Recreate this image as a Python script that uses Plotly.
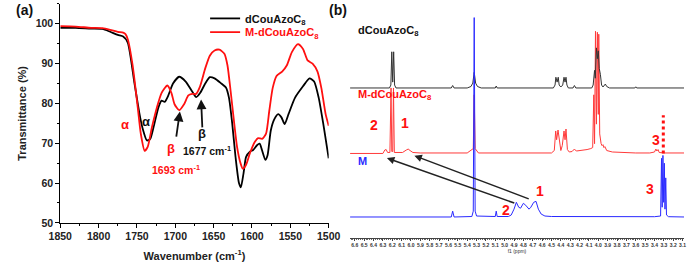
import plotly.graph_objects as go

# ---------------- Panel (a): FTIR data ----------------
ir_black_wn = [1850, 1830, 1810, 1795, 1785, 1775, 1768, 1762, 1753.6, 1747, 1743, 1737, 1732.7, 1728.4,
               1722, 1718, 1713.8, 1709.6, 1703, 1695, 1686.5, 1678, 1672.7, 1667.7, 1661, 1655, 1648.8,
               1640, 1634, 1630, 1625.7, 1621.5, 1617, 1614.5, 1611, 1607.7, 1602.7, 1598.5, 1593.5, 1590,
               1587, 1582.6, 1579.7, 1575.5, 1571, 1565.8, 1561.6, 1557.4, 1552.4, 1544, 1533.5, 1525,
               1519, 1513, 1507, 1503, 1500]
ir_black_T = [99.0, 99.0, 98.8, 98.7, 98.0, 97.2, 96.8, 95.3, 85.5, 77.7, 74.0, 70.7, 71.1, 74.0,
              79.0, 80.7, 80.4, 81.8, 85.0, 86.7, 85.5, 83.0, 81.6, 82.6, 85.0, 86.6, 86.3,
              85.0, 84.0, 81.4, 74.8, 66.6, 60.0, 58.9, 62.5, 66.6, 67.9, 68.3, 69.5, 69.9,
              68.3, 65.8, 67.0, 73.2, 76.0, 77.3, 76.5, 74.8, 77.3, 81.4, 84.3, 86.3,
              85.5, 81.4, 74.8, 69.9, 66.2]

ir_red_wn = [1850, 1830, 1810, 1795, 1785, 1775, 1768, 1765, 1762, 1755.7, 1749, 1745, 1740, 1736, 1730.5,
             1724, 1718, 1710.4, 1705, 1701, 1695, 1688.6, 1683, 1678, 1673, 1667.7, 1661, 1655, 1648.8,
             1642.5, 1636, 1632, 1627.8, 1623.6, 1619.5, 1615, 1612, 1607.7, 1602.7, 1596.4, 1592,
             1586.8, 1581.7, 1577.5, 1573, 1568, 1560.7, 1554.5, 1548, 1540, 1533.5, 1527.5, 1521,
             1514.6, 1509.6, 1504, 1500]
ir_red_T = [99.4, 99.3, 99.0, 98.9, 98.5, 98.0, 97.8, 97.4, 96.1, 89.6, 79.0, 72.4, 68.1, 69.1, 74.0,
            79.0, 82.6, 84.5, 82.6, 79.8, 78.3, 79.8, 82.0, 82.4, 82.4, 84.3, 88.8, 92.0, 93.3,
            93.5, 92.5, 89.6, 83.0, 75.7, 69.1, 65.0, 63.6, 64.6, 67.5, 70.3, 71.3,
            71.1, 72.4, 78.1, 83.9, 86.9, 88.0, 89.6, 92.9, 94.9, 93.7, 90.8, 90.0,
            88.0, 83.9, 77.3, 74.4]

ir_xticks = [1850, 1800, 1750, 1700, 1650, 1600, 1550, 1500]
ir_yticks = [50, 60, 70, 80, 90, 100]

# ---------------- Panel (b): 1H NMR data (ppm, intensity above own baseline) ----------------
nmr_black_ppm = [6.65, 6.23, 6.215, 6.205, 6.195, 6.185, 6.175, 6.16,
                 5.57, 5.555, 5.54, 5.40, 5.36, 5.34, 5.325, 5.31, 5.29, 5.25,
                 5.10, 5.09, 5.08,
                 4.48, 4.462, 4.453, 4.44, 4.428, 4.418, 4.40, 4.38, 4.366, 4.355, 4.345, 4.335, 4.32,
                 4.27, 4.255, 4.24,
                 4.07, 4.055, 4.04, 4.032, 4.02, 4.01, 4.0, 3.99, 3.978, 3.965, 3.95, 3.925, 3.91, 3.88,
                 3.61, 3.60, 3.59, 3.08]
nmr_black_int = [0, 0, 3, 37, 6, 37, 3, 0,
                 0, 2.5, 0, 0, 1.5, 5, 16, 5, 1.5, 0,
                 0, 2, 0,
                 0, 3, 11, 6, 11, 3, 1, 3, 11, 6, 11, 3, 0,
                 0, 2.5, 0,
                 0, 3, 18, 10, 41, 30, 38, 20, 14, 3, 1, 4, 1.5, 0,
                 0, 1.2, 0, 0]

nmr_red_ppm = [6.65, 6.30, 6.28, 6.265, 6.25, 6.225, 6.213, 6.205, 6.195, 6.187, 6.178, 6.09, 6.05, 6.03,
               6.01, 5.98, 5.90, 5.40, 5.335, 5.325, 5.315, 5.28,
               4.50, 4.47, 4.455, 4.445, 4.43, 4.415, 4.40, 4.385, 4.366, 4.355, 4.345, 4.33, 4.31, 4.28,
               4.255, 4.235, 4.18, 4.12, 4.08, 4.06, 4.048, 4.04, 4.03, 4.02, 4.01, 4.0, 3.995, 3.985,
               3.97, 3.96, 3.95, 3.94, 3.93, 3.91, 3.85, 3.75, 3.60, 3.45, 3.40, 3.385, 3.375, 3.362,
               3.35, 3.30, 3.08]
nmr_red_int = [0, 0, 3.5, 4, 1, 1, 67, 2, 2, 67, 1, 1, 3.5, 4.5,
               3, 1, 0.5, 0.5, 5, 60, 5, 0.5,
               0.5, 3, 23, 14, 24, 10, 3, 8, 23, 14, 25, 4, 1.5, 2,
               4.5, 2.5, 3, 4, 5, 6, 60, 10, 125, 30, 124, 40, 122, 20,
               10, 8, 9, 6, 7, 3, 1.5, 1, 0.5, 0.5, 1.5, 4.5, 2.5, 4,
               1, 0.5, 0.5]

nmr_blue_ppm = [6.65, 5.57, 5.555, 5.54, 5.35, 5.335, 5.325, 5.315, 5.30, 5.10, 5.09, 5.08,
                4.96, 4.93, 4.90, 4.875, 4.85, 4.83, 4.80, 4.775, 4.74, 4.72, 4.69, 4.665, 4.64, 4.61,
                4.57, 4.50, 3.40, 3.335, 3.325, 3.318, 3.31, 3.302, 3.295, 3.288, 3.28, 3.272, 3.25, 3.08]
nmr_blue_int = [0, 0, 6, 0, 0.5, 6, 204, 6, 1, 0.5, 6, 0.5,
                0.5, 2, 8, 15, 10, 9, 14, 12, 8, 10, 15, 16, 8, 3,
                1, 0.5, 0.3, 1, 60, 10, 63, 15, 55, 8, 40, 2, 0.3, 0]

nmr_offsets = {"black": 176, "red": 109, "blue": 44}
dotted_ppm = [3.306, 3.306]
dotted_int = [0, 39]
nmr_xticks = [round(6.6 - 0.1 * i, 1) for i in range(36)]

BOLD = "Liberation Sans"
RED = "#ff1010"
fig = go.Figure()

# IR traces (each in its own single-entry legend so the two rows sit close together)
fig.add_trace(go.Scatter(x=ir_black_wn, y=ir_black_T, mode="lines",
                         line=dict(color="black", width=1.8, shape="spline", smoothing=0.6),
                         name="dCouAzoC<sub>8</sub>", xaxis="x", yaxis="y", legend="legend"))
fig.add_trace(go.Scatter(x=ir_red_wn, y=ir_red_T, mode="lines",
                         line=dict(color=RED, width=1.8, shape="spline", smoothing=0.6),
                         name=f"<span style='color:{RED}'>M-dCouAzoC<sub>8</sub></span>",
                         xaxis="x", yaxis="y", legend="legend2"))

# NMR traces
def off(vals, key):
    return [v + nmr_offsets[key] for v in vals]

fig.add_trace(go.Scatter(x=nmr_red_ppm, y=off(nmr_red_int, "red"), mode="lines", line=dict(color="#ff3a3a", width=1),
                         xaxis="x2", yaxis="y2", showlegend=False))
fig.add_trace(go.Scatter(x=nmr_black_ppm, y=off(nmr_black_int, "black"), mode="lines", line=dict(color="#333333", width=1),
                         xaxis="x2", yaxis="y2", showlegend=False))
fig.add_trace(go.Scatter(x=nmr_blue_ppm, y=off(nmr_blue_int, "blue"), mode="lines", line=dict(color="#2a2aff", width=1),
                         xaxis="x2", yaxis="y2", showlegend=False))
fig.add_trace(go.Scatter(x=dotted_ppm, y=off(dotted_int, "red"), mode="lines", line=dict(color=RED, width=3, dash="dot"),
                         xaxis="x2", yaxis="y2", showlegend=False))

W, H = 696, 266
axfont = dict(family=BOLD, size=10.5, color="#222222", weight="bold")
legfont = dict(family=BOLD, size=11, color="#111111", weight="bold")
fig.update_layout(
    width=W, height=H, margin=dict(l=0, r=0, t=0, b=0),
    paper_bgcolor="white", plot_bgcolor="white",
    showlegend=True,
    legend=dict(x=200 / W, y=1 - 4 / H, xanchor="left", yanchor="top", bgcolor="rgba(0,0,0,0)", font=legfont),
    legend2=dict(x=200 / W, y=1 - 18 / H, xanchor="left", yanchor="top", bgcolor="rgba(0,0,0,0)", font=legfont),
    xaxis=dict(domain=[50 / W, 328 / W], range=[1850, 1500], anchor="y",
               showline=True, linecolor="black", linewidth=1, ticks="outside", ticklen=4, tickcolor="black",
               tickvals=ir_xticks, tickfont=axfont, showgrid=False, zeroline=False,
               minor=dict(dtick=25, ticks="outside", ticklen=2, tickcolor="black", showgrid=False),
               title=dict(text="Wavenumber (cm<sup>-1</sup>)", font=dict(family=BOLD, size=11, color="#222222", weight="bold"), standoff=10)),
    yaxis=dict(domain=[1 - 228 / H, 1 - 4 / H], range=[50, 105], anchor="x",
               showline=True, linecolor="black", linewidth=1, ticks="outside", ticklen=4, tickcolor="black",
               tickvals=ir_yticks, tickfont=axfont, showgrid=False, zeroline=False,
               minor=dict(dtick=5, ticks="outside", ticklen=2, tickcolor="black", showgrid=False),
               title=dict(text="Transmittance (%)", font=dict(family=BOLD, size=11, color="#222222", weight="bold"), standoff=6)),
    xaxis2=dict(domain=[350 / W, 1.0], range=[6.652, 3.085], anchor="free", position=23 / H,
                showline=True, linecolor="#444444", linewidth=1, ticks="outside", ticklen=2, tickcolor="#444444",
                tickvals=nmr_xticks, ticktext=[f"{v:.1f}" for v in nmr_xticks],
                tickfont=dict(family=BOLD, size=5, color="#333333", weight="bold"), showgrid=False, zeroline=False,
                minor=dict(dtick=0.02, ticks="outside", ticklen=1, tickcolor="#666666", showgrid=False),
                title=dict(text="f1 (ppm)", font=dict(family=BOLD, size=5, color="#333333"), standoff=0)),
    yaxis2=dict(domain=[0, 1], range=[0, H], anchor="x2", visible=False, showgrid=False),
)

ann = []
def A(text, x, y, color, size, xref="x", yref="y", xanchor="center"):
    ann.append(dict(text=text, x=x, y=y, xref=xref, yref=yref, showarrow=False, xanchor=xanchor, yanchor="middle",
                    font=dict(family=BOLD, size=size, color=color, weight="bold")))

# panel labels
A("(a)", 2 / W, 1 - 10 / H, "#111111", 14, "paper", "paper", "left")
A("(b)", 326 / W, 1 - 10 / H, "#111111", 14, "paper", "paper", "left")

# IR labels
A("α", 1765.6, 74.8, RED, 13)
A("α", 1738, 75.4, "#111111", 13)
A("β", 1705.2, 68.7, RED, 13)
A("β", 1665, 72.4, "#111111", 13)
A("1677 cm<sup>-1</sup>", 1658.6, 68.3, "#111111", 10.5)
A("1693 cm<sup>-1</sup>", 1699, 63.4, RED, 10.5)

for hx, hy, tx, ty in [(1694, 78.0, 1699, 71.3), (1666.4, 81.0, 1664.7, 73.6)]:
    ann.append(dict(x=hx, y=hy, ax=tx, ay=ty, xref="x", yref="y", axref="x", ayref="y", text="",
                    showarrow=True, arrowhead=2, arrowsize=1.1, arrowwidth=1.8, arrowcolor="#111111"))

# NMR labels
A("dCouAzoC<sub>8</sub>", 6.59, 234, "#111111", 11, "x2", "y2", "left")
A("M-dCouAzoC<sub>8</sub>", 6.585, 169, RED, 11, "x2", "y2", "left")
A("M", 6.585, 101, "#2a2aff", 11, "x2", "y2", "left")
A("2", 6.394, 138, RED, 14, "x2", "y2")
A("1", 6.067, 140, RED, 14, "x2", "y2")
A("3", 3.387, 123, RED, 14, "x2", "y2")
A("2", 4.985, 51, RED, 14, "x2", "y2")
A("1", 4.624, 71, RED, 14, "x2", "y2")
A("3", 3.448, 73, RED, 14, "x2", "y2")

for hx, hy, tx, ty in [(6.257, 104.3, 4.881, 57.7), (5.964, 106.7, 4.727, 62)]:
    ann.append(dict(x=hx, y=hy, ax=tx, ay=ty, xref="x2", yref="y2", axref="x2", ayref="y2", text="",
                    showarrow=True, arrowhead=2, arrowsize=1, arrowwidth=1.5, arrowcolor="#222222"))

fig.update_layout(annotations=ann)
fig.write_html("out.html")
